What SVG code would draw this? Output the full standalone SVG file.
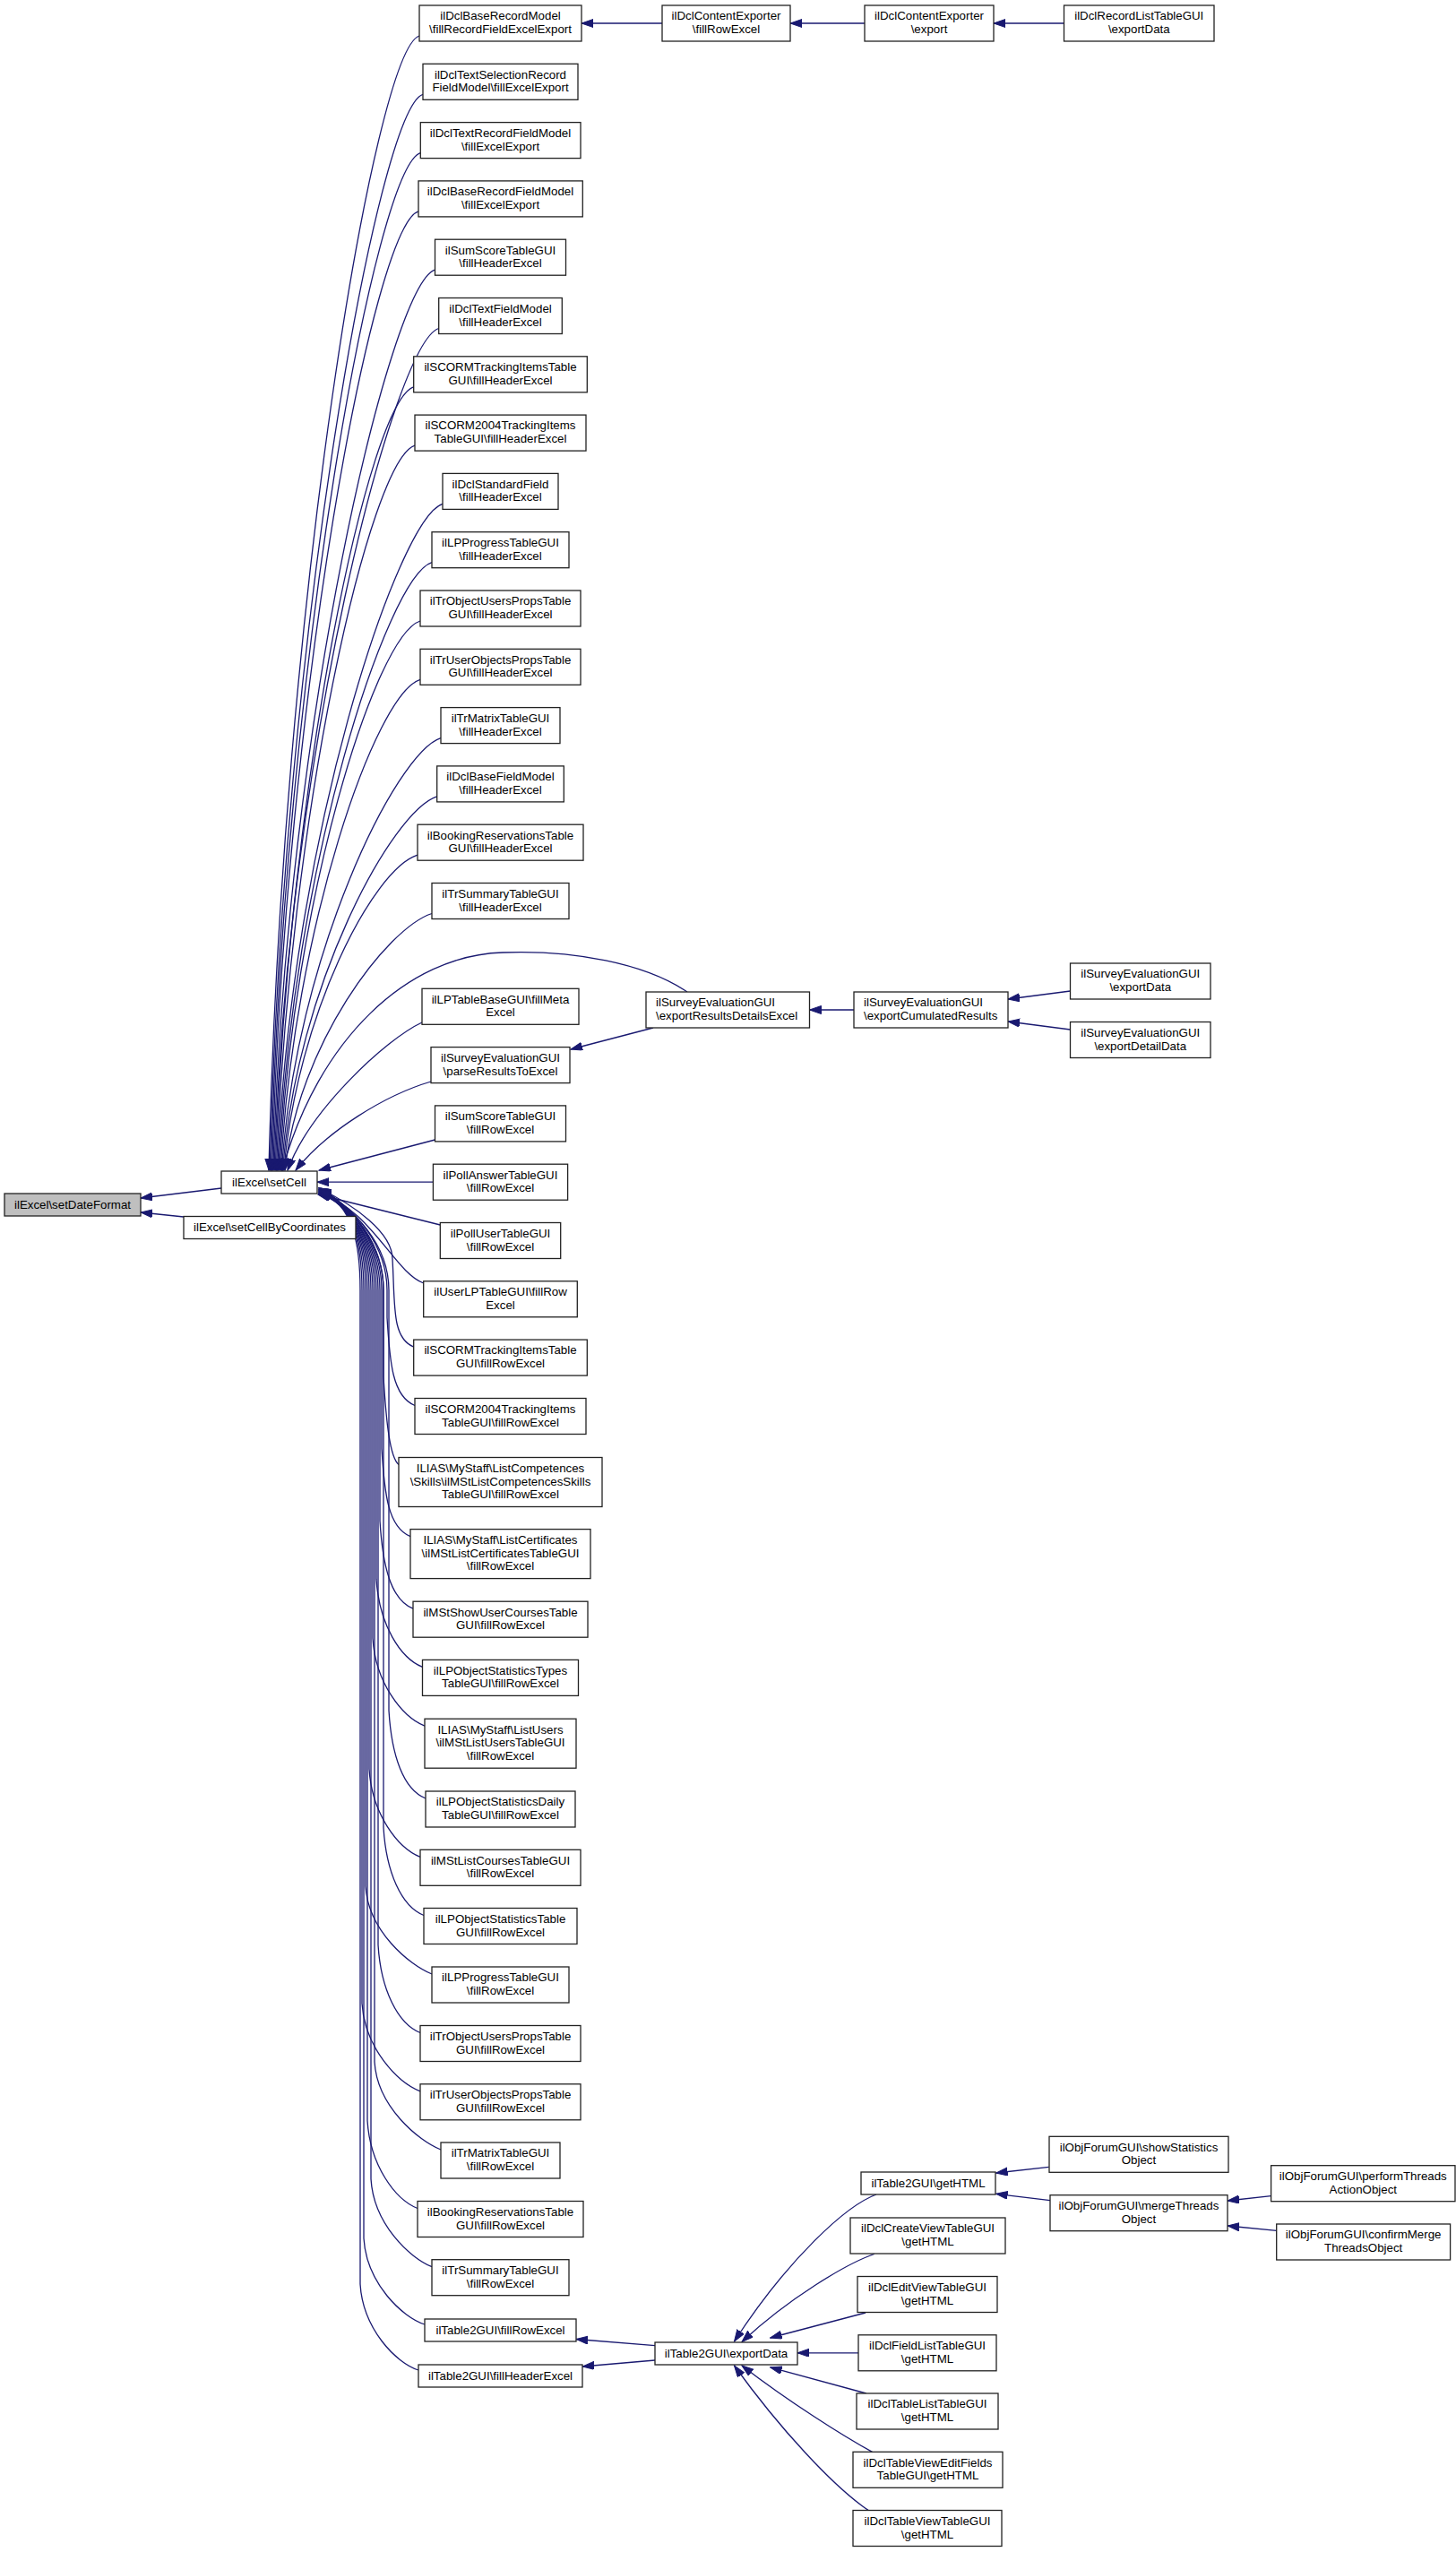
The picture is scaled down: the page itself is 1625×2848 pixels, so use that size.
<svg xmlns="http://www.w3.org/2000/svg" width="1625" height="2848" viewBox="0 0 1625 2848">
<style>
.node rect{fill:#fff;stroke:#222;stroke-width:1.3}
.node.root rect{fill:#bfbfbf}
.node text{font-family:"Liberation Sans",Arial,Helvetica,sans-serif;font-size:13.3px;text-anchor:middle;fill:#000}
.node text.l{text-anchor:start}
.edges path{fill:none;stroke:#191970;stroke-width:1.3;marker-end:url(#ah)}
</style>
<defs>
<marker id="ah" markerWidth="14" markerHeight="10" refX="13" refY="4.5" orient="auto" markerUnits="userSpaceOnUse"><path d="M0,0 L13,4.5 L0,9 z" fill="#191970" stroke="#191970" stroke-width="1"/></marker>
</defs>
<rect width="1625" height="2848" fill="#fff"/>
<g class="edges">
<path d="M247,1326 L157,1337"/>
<path d="M205,1358 L157,1353"/>
<path d="M739,26 L649,26"/>
<path d="M965,26 L882,26"/>
<path d="M1187.5,26 L1109,26"/>
<path d="M767,1107 C720,1075 640,1060 561,1063 C455,1066 355,1160 315,1306"/>
<path d="M729,1147 L637,1171"/>
<path d="M953,1127 L903.5,1127"/>
<path d="M1194.5,1106 L1125,1115"/>
<path d="M1194.5,1149 L1125,1140"/>
<path d="M731,2617.7 L643,2610.5"/>
<path d="M731,2634 L650,2641"/>
<path d="M978,2449 C945,2461 880,2520 819.5,2613"/>
<path d="M975.7,2515.5 C945,2526 880,2565 828,2613.5"/>
<path d="M966,2581 L859.6,2609"/>
<path d="M958,2625.8 L890,2625.8"/>
<path d="M966.8,2671 L859.6,2641.8"/>
<path d="M973.5,2736.4 C940,2718 880,2680 828,2640"/>
<path d="M969,2801.4 C930,2775 870,2710 819.5,2640"/>
<path d="M1170.7,2418.3 L1111.6,2425"/>
<path d="M1172,2455.7 L1111.6,2448.3"/>
<path d="M1418.6,2450.7 L1370,2456"/>
<path d="M1424.7,2489.3 L1370,2484"/>
<path d="M468,40 C418,56 315,676 300,1306"/>
<path d="M472,105.3 C422,121.3 316.2,708.7 301.2,1306"/>
<path d="M469.3,170.6 C419.3,186.6 317.4,741.3 302.4,1306"/>
<path d="M467,235.9 C417,251.9 318.6,774 303.6,1306"/>
<path d="M485.5,301.2 C435.5,317.2 319.8,806.6 304.8,1306"/>
<path d="M489.7,366.5 C439.7,382.5 321,839.3 306,1306"/>
<path d="M461.7,431.8 C411.7,447.8 322.2,871.9 307.2,1306"/>
<path d="M463,497.1 C413,513.1 323.4,904.6 308.4,1306"/>
<path d="M494,562.4 C444,578.4 324.6,937.2 309.6,1306"/>
<path d="M482,627.7 C432,643.7 325.8,969.9 310.8,1306"/>
<path d="M469,693 C419,709 327,1002.5 312,1306"/>
<path d="M469,758.3 C419,774.3 328.2,1035.2 313.2,1306"/>
<path d="M492,823.6 C442,839.6 329.4,1067.8 314.4,1306"/>
<path d="M487.7,888.9 C437.7,904.9 330.6,1100.5 315.6,1306"/>
<path d="M466,954.2 C416,970.2 331.8,1133.1 316.8,1306"/>
<path d="M482,1019.5 C432,1035.5 333,1165.8 318,1306"/>
<path d="M471,1141 C430,1160 345,1240 321,1306"/>
<path d="M481,1207 C430,1222 365,1262 330,1306"/>
<path d="M485.5,1272 L356,1306"/>
<path d="M483.4,1319.2 L354,1319.2"/>
<path d="M491.3,1367 L355,1333"/>
<path d="M472.7,1432 C440,1420 415,1350 356,1331"/>
<path d="M461.7,1503.1 C436.7,1493.1 441,1455.1 438,1405.1 C438,1375 395,1345 356,1326"/>
<path d="M463,1568.5 C438,1558.5 435,1520.5 432,1470.5 L432,1440 C432,1390 395,1345 356,1328"/>
<path d="M445,1634.5 C435,1626 431,1586.5 428,1536.5 L428,1440 C428,1390 395,1345 356,1330"/>
<path d="M458,1714.6 C433,1704.6 429,1666.6 426,1616.6 L426,1440 C426,1390 395,1345 356,1332"/>
<path d="M461,1795.2 C436,1785.2 427,1747.2 424,1697.2 L424,1440 C424,1390 395,1345 356,1326"/>
<path d="M471.5,1860.4 C446.5,1850.4 423,1812.4 420,1762.4 L420,1440 C420,1390 395,1345 356,1328"/>
<path d="M474,1926.2 C449,1916.2 419,1878.2 416,1828.2 L416,1440 C416,1390 395,1345 356,1330"/>
<path d="M475,2007 C450,1997 437,1959 434,1909 L434,1440 C434,1390 395,1345 356,1332"/>
<path d="M469,2072.3 C444,2062.3 415,2024.3 412,1974.3 L412,1440 C412,1390 395,1345 356,1326"/>
<path d="M473,2137.5 C448,2127.5 431,2089.5 428,2039.5 L428,1440 C428,1390 395,1345 356,1328"/>
<path d="M482,2203 C457,2193 411,2155 408,2105 L408,1440 C408,1390 395,1345 356,1330"/>
<path d="M469,2268.5 C444,2258.5 425,2220.5 422,2170.5 L422,1440 C422,1390 395,1345 356,1332"/>
<path d="M469,2333.8 C444,2323.8 407,2285.8 404,2235.8 L404,1440 C404,1390 395,1345 356,1326"/>
<path d="M492,2399 C467,2389 421,2351 418,2301 L418,1440 C418,1390 395,1345 356,1328"/>
<path d="M466,2464.5 C441,2454.5 413,2416.5 410,2366.5 L410,1440 C410,1390 395,1345 356,1330"/>
<path d="M482,2529.7 C457,2519.7 417,2481.7 414,2431.7 L414,1440 C414,1390 395,1345 356,1332"/>
<path d="M474,2594 C449,2586 409,2548 406,2498 L406,1440 C406,1390 395,1345 356,1326"/>
<path d="M467,2645 C442,2637 405,2599 402,2549 L402,1440 C402,1390 395,1345 356,1328"/>
</g>
<g id="setDateFormat" class="node root"><rect x="5" y="1332" width="152" height="25"/><text x="81" y="1348.5">ilExcel\setDateFormat</text></g>
<g id="setCell" class="node"><rect x="247" y="1307" width="107" height="25"/><text x="300.5" y="1323.5">ilExcel\setCell</text></g>
<g id="setCellByCoordinates" class="node"><rect x="205" y="1357.5" width="192" height="25"/><text x="301" y="1374">ilExcel\setCellByCoordinates</text></g>
<g id="n1" class="node"><rect x="468" y="6" width="181" height="40"/><text x="558.5" y="22.3">ilDclBaseRecordModel</text><text x="558.5" y="37">\fillRecordFieldExcelExport</text></g>
<g id="n2" class="node"><rect x="472" y="71.3" width="173" height="40"/><text x="558.5" y="87.6">ilDclTextSelectionRecord</text><text x="558.5" y="102.3">FieldModel\fillExcelExport</text></g>
<g id="n3" class="node"><rect x="469.3" y="136.6" width="178.7" height="40"/><text x="558.5" y="152.9">ilDclTextRecordFieldModel</text><text x="558.5" y="167.6">\fillExcelExport</text></g>
<g id="n4" class="node"><rect x="467" y="201.9" width="183.3" height="40"/><text x="558.5" y="218.2">ilDclBaseRecordFieldModel</text><text x="558.5" y="232.9">\fillExcelExport</text></g>
<g id="n5" class="node"><rect x="485.5" y="267.2" width="146" height="40"/><text x="558.5" y="283.5">ilSumScoreTableGUI</text><text x="558.5" y="298.2">\fillHeaderExcel</text></g>
<g id="n6" class="node"><rect x="489.7" y="332.5" width="137.6" height="40"/><text x="558.5" y="348.8">ilDclTextFieldModel</text><text x="558.5" y="363.5">\fillHeaderExcel</text></g>
<g id="n7" class="node"><rect x="461.7" y="397.8" width="193.6" height="40"/><text x="558.5" y="414.1">ilSCORMTrackingItemsTable</text><text x="558.5" y="428.8">GUI\fillHeaderExcel</text></g>
<g id="n8" class="node"><rect x="463" y="463.1" width="191" height="40"/><text x="558.5" y="479.4">ilSCORM2004TrackingItems</text><text x="558.5" y="494.1">TableGUI\fillHeaderExcel</text></g>
<g id="n9" class="node"><rect x="494" y="528.4" width="129" height="40"/><text x="558.5" y="544.7">ilDclStandardField</text><text x="558.5" y="559.4">\fillHeaderExcel</text></g>
<g id="n10" class="node"><rect x="482" y="593.7" width="153" height="40"/><text x="558.5" y="610">ilLPProgressTableGUI</text><text x="558.5" y="624.7">\fillHeaderExcel</text></g>
<g id="n11" class="node"><rect x="469" y="659" width="179" height="40"/><text x="558.5" y="675.3">ilTrObjectUsersPropsTable</text><text x="558.5" y="690">GUI\fillHeaderExcel</text></g>
<g id="n12" class="node"><rect x="469" y="724.3" width="179" height="40"/><text x="558.5" y="740.6">ilTrUserObjectsPropsTable</text><text x="558.5" y="755.3">GUI\fillHeaderExcel</text></g>
<g id="n13" class="node"><rect x="492" y="789.6" width="133" height="40"/><text x="558.5" y="805.9">ilTrMatrixTableGUI</text><text x="558.5" y="820.6">\fillHeaderExcel</text></g>
<g id="n14" class="node"><rect x="487.7" y="854.9" width="141.6" height="40"/><text x="558.5" y="871.2">ilDclBaseFieldModel</text><text x="558.5" y="885.9">\fillHeaderExcel</text></g>
<g id="n15" class="node"><rect x="466" y="920.2" width="185" height="40"/><text x="558.5" y="936.5">ilBookingReservationsTable</text><text x="558.5" y="951.2">GUI\fillHeaderExcel</text></g>
<g id="n16" class="node"><rect x="482" y="985.5" width="153" height="40"/><text x="558.5" y="1001.8">ilTrSummaryTableGUI</text><text x="558.5" y="1016.5">\fillHeaderExcel</text></g>
<g id="n17" class="node"><rect x="471" y="1103.3" width="175" height="40"/><text x="558.5" y="1119.6">ilLPTableBaseGUI\fillMeta</text><text x="558.5" y="1134.3">Excel</text></g>
<g id="n18" class="node"><rect x="481" y="1168.6" width="155" height="40"/><text x="558.5" y="1184.9">ilSurveyEvaluationGUI</text><text x="558.5" y="1199.6">\parseResultsToExcel</text></g>
<g id="n19" class="node"><rect x="485.5" y="1233.9" width="146" height="40"/><text x="558.5" y="1250.2">ilSumScoreTableGUI</text><text x="558.5" y="1264.9">\fillRowExcel</text></g>
<g id="n20" class="node"><rect x="483.4" y="1299.2" width="150.2" height="40"/><text x="558.5" y="1315.5">ilPollAnswerTableGUI</text><text x="558.5" y="1330.2">\fillRowExcel</text></g>
<g id="n21" class="node"><rect x="491.3" y="1364.5" width="134.4" height="40"/><text x="558.5" y="1380.8">ilPollUserTableGUI</text><text x="558.5" y="1395.5">\fillRowExcel</text></g>
<g id="n22" class="node"><rect x="472.7" y="1429.8" width="171.6" height="40"/><text x="558.5" y="1446.1">ilUserLPTableGUI\fillRow</text><text x="558.5" y="1460.8">Excel</text></g>
<g id="n23" class="node"><rect x="461.7" y="1495.1" width="193.6" height="40"/><text x="558.5" y="1511.4">ilSCORMTrackingItemsTable</text><text x="558.5" y="1526.1">GUI\fillRowExcel</text></g>
<g id="n24" class="node"><rect x="463" y="1560.5" width="191" height="40"/><text x="558.5" y="1576.8">ilSCORM2004TrackingItems</text><text x="558.5" y="1591.5">TableGUI\fillRowExcel</text></g>
<g id="n25" class="node"><rect x="445" y="1626.5" width="227" height="55"/><text x="558.5" y="1642.8">ILIAS\MyStaff\ListCompetences</text><text x="558.5" y="1657.5">\Skills\ilMStListCompetencesSkills</text><text x="558.5" y="1672.2">TableGUI\fillRowExcel</text></g>
<g id="n26" class="node"><rect x="458" y="1706.6" width="201" height="55"/><text x="558.5" y="1722.9">ILIAS\MyStaff\ListCertificates</text><text x="558.5" y="1737.6">\ilMStListCertificatesTableGUI</text><text x="558.5" y="1752.3">\fillRowExcel</text></g>
<g id="n27" class="node"><rect x="461" y="1787.2" width="195" height="40"/><text x="558.5" y="1803.5">ilMStShowUserCoursesTable</text><text x="558.5" y="1818.2">GUI\fillRowExcel</text></g>
<g id="n28" class="node"><rect x="471.5" y="1852.4" width="174" height="40"/><text x="558.5" y="1868.7">ilLPObjectStatisticsTypes</text><text x="558.5" y="1883.4">TableGUI\fillRowExcel</text></g>
<g id="n29" class="node"><rect x="474" y="1918.2" width="169" height="55"/><text x="558.5" y="1934.5">ILIAS\MyStaff\ListUsers</text><text x="558.5" y="1949.2">\ilMStListUsersTableGUI</text><text x="558.5" y="1963.9">\fillRowExcel</text></g>
<g id="n30" class="node"><rect x="475" y="1999" width="167" height="40"/><text x="558.5" y="2015.3">ilLPObjectStatisticsDaily</text><text x="558.5" y="2030">TableGUI\fillRowExcel</text></g>
<g id="n31" class="node"><rect x="469" y="2064.3" width="179" height="40"/><text x="558.5" y="2080.6">ilMStListCoursesTableGUI</text><text x="558.5" y="2095.3">\fillRowExcel</text></g>
<g id="n32" class="node"><rect x="473" y="2129.5" width="171" height="40"/><text x="558.5" y="2145.8">ilLPObjectStatisticsTable</text><text x="558.5" y="2160.5">GUI\fillRowExcel</text></g>
<g id="n33" class="node"><rect x="482" y="2195" width="153" height="40"/><text x="558.5" y="2211.3">ilLPProgressTableGUI</text><text x="558.5" y="2226">\fillRowExcel</text></g>
<g id="n34" class="node"><rect x="469" y="2260.5" width="179" height="40"/><text x="558.5" y="2276.8">ilTrObjectUsersPropsTable</text><text x="558.5" y="2291.5">GUI\fillRowExcel</text></g>
<g id="n35" class="node"><rect x="469" y="2325.8" width="179" height="40"/><text x="558.5" y="2342.1">ilTrUserObjectsPropsTable</text><text x="558.5" y="2356.8">GUI\fillRowExcel</text></g>
<g id="n36" class="node"><rect x="492" y="2391" width="133" height="40"/><text x="558.5" y="2407.3">ilTrMatrixTableGUI</text><text x="558.5" y="2422">\fillRowExcel</text></g>
<g id="n37" class="node"><rect x="466" y="2456.5" width="185" height="40"/><text x="558.5" y="2472.8">ilBookingReservationsTable</text><text x="558.5" y="2487.5">GUI\fillRowExcel</text></g>
<g id="n38" class="node"><rect x="482" y="2521.7" width="153" height="40"/><text x="558.5" y="2538">ilTrSummaryTableGUI</text><text x="558.5" y="2552.7">\fillRowExcel</text></g>
<g id="n39" class="node"><rect x="474" y="2588" width="169" height="25"/><text x="558.5" y="2604.5">ilTable2GUI\fillRowExcel</text></g>
<g id="n40" class="node"><rect x="467" y="2639" width="183" height="25"/><text x="558.5" y="2655.5">ilTable2GUI\fillHeaderExcel</text></g>
<g id="dclCEFillRow" class="node"><rect x="739" y="6" width="143" height="40"/><text x="810.5" y="22.3">ilDclContentExporter</text><text x="810.5" y="37">\fillRowExcel</text></g>
<g id="dclCEExport" class="node"><rect x="965" y="6" width="144" height="40"/><text x="1037" y="22.3">ilDclContentExporter</text><text x="1037" y="37">\export</text></g>
<g id="dclRecordList" class="node"><rect x="1187.5" y="6" width="167.5" height="40"/><text x="1271.25" y="22.3">ilDclRecordListTableGUI</text><text x="1271.25" y="37">\exportData</text></g>
<g id="resultsDetails" class="node"><rect x="721" y="1107" width="182.5" height="40"/><text class="l" x="732" y="1123.3">ilSurveyEvaluationGUI</text><text class="l" x="732" y="1138">\exportResultsDetailsExcel</text></g>
<g id="cumulated" class="node"><rect x="953" y="1107" width="172" height="40"/><text class="l" x="964" y="1123.3">ilSurveyEvaluationGUI</text><text class="l" x="964" y="1138">\exportCumulatedResults</text></g>
<g id="segExportData" class="node"><rect x="1194.5" y="1075" width="156.5" height="40"/><text x="1272.75" y="1091.3">ilSurveyEvaluationGUI</text><text x="1272.75" y="1106">\exportData</text></g>
<g id="segExportDetail" class="node"><rect x="1194.5" y="1140.5" width="156.5" height="40"/><text x="1272.75" y="1156.8">ilSurveyEvaluationGUI</text><text x="1272.75" y="1171.5">\exportDetailData</text></g>
<g id="t2ExportData" class="node"><rect x="731" y="2614" width="159" height="25"/><text x="810.5" y="2630.5">ilTable2GUI\exportData</text></g>
<g id="t2GetHTML" class="node"><rect x="961" y="2424" width="150" height="25"/><text x="1036" y="2440.5">ilTable2GUI\getHTML</text></g>
<g id="createView" class="node"><rect x="949" y="2475" width="173" height="40"/><text x="1035.5" y="2491.3">ilDclCreateViewTableGUI</text><text x="1035.5" y="2506">\getHTML</text></g>
<g id="editView" class="node"><rect x="957" y="2540.5" width="156" height="40"/><text x="1035" y="2556.8">ilDclEditViewTableGUI</text><text x="1035" y="2571.5">\getHTML</text></g>
<g id="fieldList" class="node"><rect x="958" y="2605.8" width="154" height="40"/><text x="1035" y="2622.1">ilDclFieldListTableGUI</text><text x="1035" y="2636.8">\getHTML</text></g>
<g id="tableList" class="node"><rect x="956" y="2671" width="158" height="40"/><text x="1035" y="2687.3">ilDclTableListTableGUI</text><text x="1035" y="2702">\getHTML</text></g>
<g id="tvEditFields" class="node"><rect x="952" y="2736.3" width="167" height="40"/><text x="1035.5" y="2752.6">ilDclTableViewEditFields</text><text x="1035.5" y="2767.3">TableGUI\getHTML</text></g>
<g id="tvTable" class="node"><rect x="952" y="2801.5" width="166" height="40"/><text x="1035" y="2817.8">ilDclTableViewTableGUI</text><text x="1035" y="2832.5">\getHTML</text></g>
<g id="showStatistics" class="node"><rect x="1171" y="2384.3" width="200" height="40"/><text x="1271" y="2400.6">ilObjForumGUI\showStatistics</text><text x="1271" y="2415.3">Object</text></g>
<g id="mergeThreads" class="node"><rect x="1172" y="2449.7" width="198" height="40"/><text x="1271" y="2466">ilObjForumGUI\mergeThreads</text><text x="1271" y="2480.7">Object</text></g>
<g id="performThreads" class="node"><rect x="1418.6" y="2416.7" width="205.4" height="40"/><text x="1521.3" y="2433">ilObjForumGUI\performThreads</text><text x="1521.3" y="2447.7">ActionObject</text></g>
<g id="confirmMerge" class="node"><rect x="1424.7" y="2482" width="193.9" height="40"/><text x="1521.65" y="2498.3">ilObjForumGUI\confirmMerge</text><text x="1521.65" y="2513">ThreadsObject</text></g>
</svg>
